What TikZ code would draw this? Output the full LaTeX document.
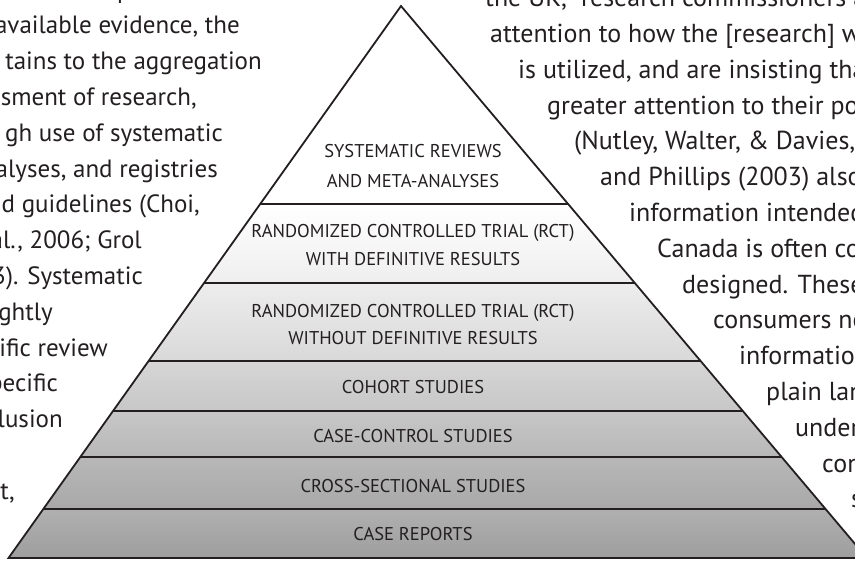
\documentclass[tikz,border=0pt]{standalone}
\usepackage{fontspec}
\setmainfont{PT Sans}
\definecolor{ink}{HTML}{231F20}
\begin{document}
\begin{tikzpicture}[x=1pt,y=-1pt,
  tierline/.style={line width=2.6pt, draw=ink},
  outline/.style={line width=1.8pt, draw=ink, line join=miter},
  tierlabel/.style={font=\fontsize{18.5}{18.5}\selectfont, text=ink, inner sep=0pt, anchor=base},
  bodyleft/.style={font=\fontsize{25}{25}\selectfont, text=ink, inner sep=0pt, anchor=base east},
  bodyright/.style={font=\fontsize{26}{26}\selectfont, text=ink, inner sep=0pt, anchor=base west},
]
\useasboundingbox (0,0) rectangle (855,561);
\begin{scope}
\clip (0,0) rectangle (855,561);

% corner points of the pyramid and its tiers
\coordinate (apex) at (401,6);
\coordinate (l1) at (260.2,204) ; \coordinate (r1) at (568.1,204);
\coordinate (l2) at (204.1,283) ; \coordinate (r2) at (634.8,283);
\coordinate (l3) at (148.6,361) ; \coordinate (r3) at (700.6,361);
\coordinate (l4) at (113.0,411) ; \coordinate (r4) at (742.8,411);
\coordinate (l5) at (80.3,457)  ; \coordinate (r5) at (781.6,457);
\coordinate (l6) at (43.4,509)  ; \coordinate (r6) at (825.5,509);
\coordinate (l7) at (8.5,558)   ; \coordinate (r7) at (866.9,558);

% tier fills, darkening towards the base
\fill[white] (apex) -- (l1) -- (r1) -- cycle;
\shade[top color=white,    bottom color=black!6.5] (l1) -- (l2) -- (r2) -- (r1) -- cycle;
\shade[top color=black!7,  bottom color=black!15]  (l2) -- (l3) -- (r3) -- (r2) -- cycle;
\shade[top color=black!16, bottom color=black!22]  (l3) -- (l4) -- (r4) -- (r3) -- cycle;
\shade[top color=black!22, bottom color=black!28]  (l4) -- (l5) -- (r5) -- (r4) -- cycle;
\shade[top color=black!28, bottom color=black!34]  (l5) -- (l6) -- (r6) -- (r5) -- cycle;
\shade[top color=black!31, bottom color=black!38]  (l6) -- (l7) -- (r7) -- (r6) -- cycle;

% dividing lines and outline
\foreach \i in {1,...,6} \draw[tierline] (l\i) -- (r\i);
\draw[outline] (apex) -- (l7) -- (r7) -- cycle;

% tier labels
\node[tierlabel] (t1a) at (413,158) {SYSTEMATIC REVIEWS};
\node[tierlabel] (t1b) at (413,188) {AND META-ANALYSES};
\node[tierlabel] (t2a) at (413,238) {RANDOMIZED CONTROLLED TRIAL (RCT)};
\node[tierlabel] (t2b) at (413,266) {WITH DEFINITIVE RESULTS};
\node[tierlabel] (t3a) at (413,318) {RANDOMIZED CONTROLLED TRIAL (RCT)};
\node[tierlabel] (t3b) at (413,345) {WITHOUT DEFINITIVE RESULTS};
\node[tierlabel] (t4)  at (413,394) {COHORT STUDIES};
\node[tierlabel] (t5)  at (413,443) {CASE-CONTROL STUDIES};
\node[tierlabel] (t6)  at (413,493) {CROSS-SECTIONAL STUDIES};
\node[tierlabel] (t7)  at (413,540) {CASE REPORTS};

% running text on the left of the figure
\node[bodyright, font=\fontsize{25}{25}\selectfont] (pl0) at (117,-1.8) {p};
\node[bodyleft] (pl1)  at (240,34)    {available evidence, the};
\node[bodyleft] (pl2)  at (262,69.8)  {tains to the aggregation};
\node[bodyleft] (pl3)  at (197,105.6) {sment of research,};
\node[bodyleft] (pl4)  at (223,141.4) {gh use of systematic};
\node[bodyleft] (pl5)  at (218,177.2) {alyses, and registries};
\node[bodyleft] (pl6)  at (200,213)   {d guidelines (Choi,};
\node[bodyleft] (pl7)  at (142,248.8) {al., 2006; Grol};
\node[bodyleft] (pl8)  at (143,284.6) {3). Systematic};
\node[bodyleft] (pl9)  at (53,320.4)  {ghtly};
\node[bodyleft] (pl10) at (108,356.2) {ific review};
\node[bodyleft] (pl11) at (58,392)    {pecific};
\node[bodyleft] (pl12) at (63,427.8)  {lusion};
\node[bodyleft] (pl13) at (15,499.4)  {t,};

% running text on the right of the figure
\node[bodyright] (pr0)  at (485,6.7)   {the UK, “research commissioners a};
\node[bodyright] (pr1)  at (490,42.5)  {attention to how the [research] w};
\node[bodyright] (pr2)  at (518,78.3)  {is utilized, and are insisting tha};
\node[bodyright] (pr3)  at (547,114.1) {greater attention to their po};
\node[bodyright] (pr4)  at (574,149.9) {(Nutley, Walter, \& Davies, 2};
\node[bodyright] (pr5)  at (600,185.7) {and Phillips (2003) also};
\node[bodyright] (pr6)  at (629,221.5) {information intended};
\node[bodyright] (pr7)  at (657,257.3) {Canada is often co};
\node[bodyright] (pr8)  at (682,293.1) {designed. These};
\node[bodyright] (pr9)  at (713,328.9) {consumers ne};
\node[bodyright] (pr10) at (739,364.7) {information};
\node[bodyright] (pr11) at (766,400.5) {plain lan};
\node[bodyright] (pr12) at (795,436.3) {under};
\node[bodyright] (pr13) at (822,472.1) {con};
\node[bodyright] (pr14) at (851,507.9) {s};
\end{scope}
\end{tikzpicture}
\end{document}
